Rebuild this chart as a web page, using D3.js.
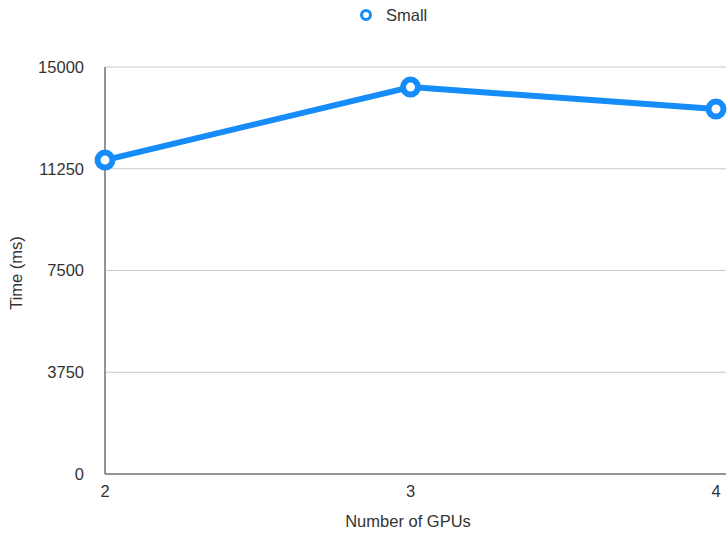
<!DOCTYPE html>
<html>
<head>
<meta charset="utf-8">
<script src="https://cdn.jsdelivr.net/npm/d3@7"></script>
<style>
  html, body { margin: 0; padding: 0; background: #fff; }
  svg { display: block; font-family: "Liberation Sans", Arial, sans-serif; }
</style>
</head>
<body>
<svg id="chart" width="728" height="536"></svg>
<script>
// GPU count vs. run time for the "Small" workload
const gpus = [2, 3, 4];
const timesSmall = [11570, 14260, 13450];
const yTicks = [0, 3750, 7500, 11250, 15000];
const seriesName = "Small";

const svg = d3.select("#chart");
const blue = "#168CF8";
const textColor = "#333";
const fontSize = 16.5;
const margin = { left: 105, right: 12, top: 67, bottom: 62 };
const W = 728, H = 536;

const x = d3.scaleLinear().domain([2, 4]).range([margin.left, 716]);
const y = d3.scaleLinear().domain([0, 15000]).range([H - margin.bottom, margin.top]);

// horizontal gridlines
svg.append("g")
  .selectAll("line")
  .data(yTicks.filter(t => t > 0))
  .join("line")
  .attr("x1", margin.left).attr("x2", 726)
  .attr("y1", d => y(d)).attr("y2", d => y(d))
  .attr("stroke", "#c8c8c8").attr("stroke-width", 1);

// y axis labels
svg.append("g")
  .selectAll("text")
  .data(yTicks)
  .join("text")
  .attr("x", 84).attr("y", d => y(d))
  .attr("dy", "0.35em")
  .attr("text-anchor", "end")
  .attr("font-size", fontSize)
  .attr("fill", textColor)
  .text(d => d);

// x axis labels
svg.append("g")
  .selectAll("text")
  .data(gpus)
  .join("text")
  .attr("x", d => x(d)).attr("y", 491)
  .attr("dy", "0.35em")
  .attr("text-anchor", "middle")
  .attr("font-size", fontSize)
  .attr("fill", textColor)
  .text(d => d);

// axis lines
svg.append("line")
  .attr("x1", margin.left).attr("x2", margin.left)
  .attr("y1", y(15000)).attr("y2", y(0))
  .attr("stroke", "#707070").attr("stroke-width", 1.5);
svg.append("line")
  .attr("x1", margin.left).attr("x2", 726)
  .attr("y1", y(0)).attr("y2", y(0))
  .attr("stroke", "#707070").attr("stroke-width", 1.5);

// axis titles
svg.append("text")
  .attr("x", 408).attr("y", 521)
  .attr("dy", "0.35em")
  .attr("text-anchor", "middle")
  .attr("font-size", fontSize).attr("fill", textColor)
  .text("Number of GPUs");
svg.append("text")
  .attr("transform", `translate(16,273) rotate(-90)`)
  .attr("dy", "0.35em")
  .attr("text-anchor", "middle")
  .attr("font-size", fontSize).attr("fill", textColor)
  .text("Time (ms)");

// series line
const line = d3.line().x((d, i) => x(gpus[i])).y(d => y(d));
svg.append("path")
  .datum(timesSmall)
  .attr("d", line)
  .attr("fill", "none")
  .attr("stroke", blue)
  .attr("stroke-width", 6)
  .attr("stroke-linejoin", "round");

// series markers
svg.append("g")
  .selectAll("circle")
  .data(timesSmall)
  .join("circle")
  .attr("cx", (d, i) => x(gpus[i]))
  .attr("cy", d => y(d))
  .attr("r", 7.5)
  .attr("fill", "#fff")
  .attr("stroke", blue)
  .attr("stroke-width", 6);

// legend
const legend = svg.append("g").attr("transform", "translate(366,15)");
legend.append("circle")
  .attr("r", 4.5).attr("fill", "#fff")
  .attr("stroke", blue).attr("stroke-width", 3);
legend.append("text")
  .attr("x", 20).attr("dy", "0.35em")
  .attr("font-size", fontSize).attr("fill", textColor)
  .text(seriesName);
</script>
</body>
</html>
